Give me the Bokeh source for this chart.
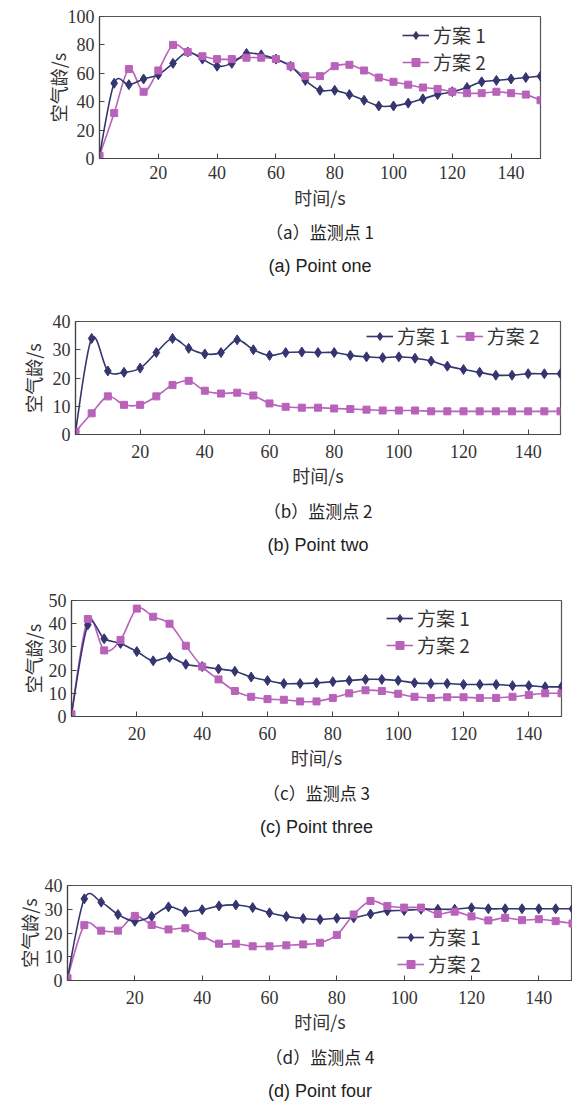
import numpy as np
from bokeh.plotting import figure
from bokeh.models import Range1d, Legend, LegendItem, Title
from bokeh.embed import file_html
from bokeh.resources import INLINE

# ---------------- data ----------------
time_s = [0, 5, 10, 15, 20, 25, 30, 35, 40, 45, 50, 55, 60, 65, 70, 75, 80,
          85, 90, 95, 100, 105, 110, 115, 120, 125, 130, 135, 140, 145, 150]

p1_plan1 = [2, 53, 52, 56, 59, 67, 75, 70, 65, 67, 74, 73, 70, 65, 55, 48, 48,
            45, 41, 37, 37, 39, 42, 45, 47, 50, 54, 55, 56, 57, 58]
p1_plan2 = [2, 32, 63, 47, 62, 80, 75, 72, 70, 70, 71, 71, 70, 65, 58, 58, 65,
            66, 62, 57, 54, 52, 50, 49, 47, 46, 46, 47, 46, 45, 41]

p2_plan1 = [1, 34, 22.5, 22, 23.5, 29, 34, 30.5, 28.5, 29, 33.5, 30, 28, 29, 29.2,
            29, 29, 28, 27.5, 27.2, 27.5, 27, 26, 24.2, 23, 22, 21, 21, 21.5, 21.5, 21.5]
p2_plan2 = [1, 7.5, 13.5, 10.5, 10.5, 13.5, 17.5, 19, 15.5, 14.5, 14.8, 13.8, 11,
            9.8, 9.5, 9.5, 9.2, 9, 8.8, 8.5, 8.5, 8.5, 8.2, 8.2, 8.2, 8.2, 8.2, 8.2,
            8.2, 8.2, 8.2]

p3_plan1 = [1, 39.5, 33.5, 31.5, 28, 24, 25.5, 22.5, 21.5, 20.5, 19.5, 17, 15.5,
            14.2, 14.2, 14.5, 15, 15.5, 16, 16, 15.5, 14.5, 14.2, 14.2, 13.8, 13.8,
            13.8, 13.3, 13.3, 12.8, 12.8]
p3_plan2 = [1, 42, 28.5, 33, 46.5, 43, 40, 30.5, 21.5, 16, 11, 8.5, 7.5, 7.2, 6.5,
            6.5, 8, 10, 11.3, 11, 9.8, 8.5, 8, 8.3, 8.3, 8, 8, 8.5, 9.3, 10, 10]

p4_plan1 = [1, 34.4, 33, 27.8, 24.9, 27, 31, 29, 29.8, 31.4, 31.8, 30.7, 28.5, 27,
            26.1, 25.7, 26.2, 26.4, 28, 29.3, 29.5, 30, 30, 30, 30.6, 30.2, 30.2,
            30.2, 30.2, 30.2, 30.2]
p4_plan2 = [1, 23.3, 21, 21, 27.2, 23.4, 21.5, 22, 18.7, 15.5, 15.5, 14.4, 14.4,
            14.8, 15.2, 15.9, 19.2, 27.8, 33.5, 31.4, 30.7, 30.7, 28, 29, 27, 25.3,
            26.4, 25.4, 25.8, 25, 24]

x_ticks = [20, 40, 60, 80, 100, 120, 140]
y_ticks_1 = [0, 20, 40, 60, 80, 100]
y_ticks_2 = [0, 10, 20, 30, 40]
y_ticks_3 = [0, 10, 20, 30, 40, 50]
y_ticks_4 = [0, 10, 20, 30, 40]

series_names = ["方案 1", "方案 2"]
captions_cn = ["（a）监测点 1", "（b）监测点 2", "（c）监测点 3", "（d）监测点 4"]
captions_en = ["(a) Point one", "(b) Point two", "(c) Point three", "(d) Point four"]
x_title = "时间/s"
y_title = "空气龄/s"

# ---------------- style ----------------
C1 = "#35356f"
C2 = "#b862b9"
CJK = "Noto Sans CJK SC"
SERIF = "Liberation Serif"
SANS = "Liberation Sans"


def smooth_segments(x, y):
    x = np.asarray(x, float)
    y = np.asarray(y, float)
    n = len(x)
    xp = np.concatenate([[x[0]], x, [x[-1]]])
    yp = np.concatenate([[y[0]], y, [y[-1]]])
    cx0 = x[:-1] + (xp[2:n + 1] - xp[0:n - 1]) / 6.0
    cy0 = y[:-1] + (yp[2:n + 1] - yp[0:n - 1]) / 6.0
    cx1 = x[1:] - (xp[3:n + 2] - xp[1:n]) / 6.0
    cy1 = y[1:] - (yp[3:n + 2] - yp[1:n]) / 6.0
    return dict(x0=x[:-1], y0=y[:-1], x1=x[1:], y1=y[1:],
                cx0=cx0, cy0=cy0, cx1=cx1, cy1=cy1)


def make_panel(s1, s2, y_max, y_ticks, cap_cn, cap_en, height, top, bottom,
               left, right, leg_loc, leg_orient, leg_spacing, ylab_standoff,
               tick_standoff, xlab_standoff, t1_standoff, t2_standoff):
    p = figure(width=572, height=height, output_backend="svg",
               toolbar_location=None, x_range=Range1d(0, 150),
               y_range=Range1d(0, y_max))
    p.min_border_top = top
    p.min_border_bottom = bottom
    p.min_border_left = left
    p.min_border_right = right
    p.background_fill_color = "white"
    p.border_fill_color = "white"
    p.outline_line_color = "#555555"
    p.outline_line_width = 1.2
    p.grid.visible = False

    for ax in (p.xaxis[0], p.yaxis[0]):
        ax.major_tick_in = 5
        ax.major_tick_out = 0
        ax.minor_tick_line_color = None
        ax.axis_line_color = "#444444"
        ax.axis_line_width = 1.2
        ax.major_tick_line_color = "#444444"
        ax.major_label_text_font = SERIF
        ax.major_label_text_font_size = "18px"
        ax.major_label_text_color = "#333333"
        ax.axis_label_text_font = CJK
        ax.axis_label_text_font_size = "18px"
        ax.axis_label_text_font_style = "normal"
        ax.axis_label_text_color = "#333333"
    p.xaxis.ticker = x_ticks
    p.yaxis.ticker = y_ticks
    p.xaxis.major_label_standoff = tick_standoff
    p.yaxis.major_label_standoff = 5
    p.xaxis.axis_label = x_title
    p.yaxis.axis_label = y_title
    p.xaxis.axis_label_standoff = xlab_standoff
    p.yaxis.axis_label_standoff = ylab_standoff

    for ys, col in ((s2, C2), (s1, C1)):
        p.bezier(source=smooth_segments(time_s, ys), x0="x0", y0="y0", x1="x1",
                 y1="y1", cx0="cx0", cy0="cy0", cx1="cx1", cy1="cy1",
                 line_color=col, line_width=1.6)
    leg_rends = []
    for ys, col, mk, sz in ((s1, C1, "diamond", 10), (s2, C2, "square", 7)):
        ln = p.line(x=time_s[:1], y=ys[:1], line_color=col, line_width=1.6)
        sc = p.scatter(x=time_s, y=ys, marker=mk, size=sz, fill_color=col,
                       line_color=col)
        leg_rends.append((ln, sc))

    legend = Legend(items=[LegendItem(label=series_names[i],
                                      renderers=list(leg_rends[i]))
                           for i in range(2)],
                    location=leg_loc, orientation=leg_orient)
    legend.label_text_font = CJK
    legend.label_text_font_size = "19px"
    legend.label_text_color = "#333333"
    legend.glyph_width = 27
    legend.glyph_height = 20
    legend.label_height = 20
    legend.label_standoff = 4
    legend.spacing = leg_spacing
    legend.padding = 0
    legend.margin = 0
    legend.border_line_alpha = 0
    legend.background_fill_alpha = 0
    p.add_layout(legend)

    t1 = Title(text=cap_cn, align="center", text_font=CJK, text_font_size="17px",
               text_font_style="normal", text_color="#222222",
               standoff=t1_standoff)
    t2 = Title(text=cap_en, align="center", text_font=SANS, text_font_size="18px",
               text_font_style="normal", text_color="#222222",
               standoff=t2_standoff)
    p.add_layout(t1, "below")
    p.add_layout(t2, "below")
    return p


f1 = make_panel(p1_plan1, p1_plan2, 100, y_ticks_1, captions_cn[0], captions_en[0],
                290, 16, 132, 99, 32, (303, 83), "vertical", -5, -6,
                7, 2, 8, 12)
f2 = make_panel(p2_plan1, p2_plan2, 40, y_ticks_2, captions_cn[1], captions_en[1],
                285, 31, 141, 75, 12, (291, 85), "horizontal", 6, 4,
                10, 1, 10, 10)
f3 = make_panel(p3_plan1, p3_plan2, 50, y_ticks_3, captions_cn[2], captions_en[2],
                285, 25, 144, 71, 11, (315, 58), "vertical", -5, 0,
                10, 1, 10, 10)
f4 = make_panel(p4_plan1, p4_plan2, 40, y_ticks_4, captions_cn[3], captions_en[3],
                245, 25, 120, 67, 0, (330, 3), "vertical", -2, 0,
                10, 1, 10, 10)

open("out.html", "w").write(file_html([f1, f2, f3, f4], INLINE))
